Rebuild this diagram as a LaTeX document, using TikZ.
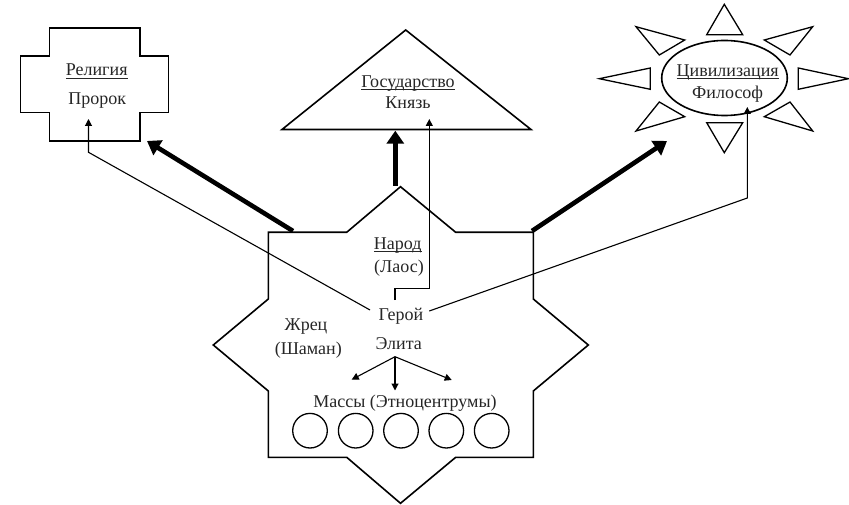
\documentclass[tikz,border=0pt]{standalone}
\usepackage{fontspec}
\setmainfont{Liberation Serif}
\usetikzlibrary{arrows.meta}
\newsavebox\ulbox
\newcommand\myul[1]{\sbox\ulbox{#1}\makebox[0pt][l]{\raisebox{-2.6pt}{\rule{\wd\ulbox}{0.9pt}}}\usebox\ulbox}
\tikzset{
  x=1pt,y=-1pt,
  outline/.style={draw=black,line width=1.6pt,line join=miter,fill=none},
  label/.style={inner sep=0pt,anchor=base,font=\fontsize{18pt}{20pt}\selectfont,text=black!85},
  thin link/.style={draw=black,line width=1.1pt},
  thin arrow/.style={thin link,-{Triangle[length=7pt,width=7pt]}},
  bold arrow/.style={draw=black,line width=4.6pt,-{Triangle[length=13pt,width=17pt]}},
  ethno/.style={circle,draw=black,line width=1.3pt,minimum size=34.6pt,inner sep=0pt},
  ray/.style={draw=black,line width=1.3pt,line join=miter},
}
\begin{document}
\begin{tikzpicture}
\useasboundingbox (0,0) rectangle (849,505);
% cross
\draw[outline] (49.5,28) -- (140,28) -- (140,56) -- (168.5,56) -- (168.5,112.5) -- (140,112.5) -- (140,141) -- (49.5,141) -- (49.5,112.5) -- (20.5,112.5) -- (20.5,56) -- (49.5,56) -- cycle;
% triangle
\draw[outline] (405.7,30) -- (531,129.5) -- (282,129.5) -- cycle;
% star
\draw[outline] (400.5,186.7) -- (455.7,232.3) -- (533.3,232.3) -- (533.3,299) -- (588.3,345) -- (533.3,391) -- (533.3,457.3) -- (455.7,457.3) -- (400.5,503.3) -- (346.7,457.3) -- (268.3,457.3) -- (268.3,391) -- (213.3,345) -- (268.3,299) -- (268.3,232.3) -- (346.7,232.3) -- cycle;
% sun
\draw[outline] (724.5,78) ellipse [x radius=62.8,y radius=37.5];
\draw[ray] (724.3,4.3) -- (742.7,34.7) -- (706.7,34.7) -- cycle;
\draw[ray] (724.3,152.7) -- (742.7,122.7) -- (706.7,122.7) -- cycle;
\draw[ray] (599.3,78.7) -- (650.3,68) -- (650.3,89.3) -- cycle;
\draw[ray] (848.4,78.7) -- (798.3,68) -- (798.3,89.3) -- cycle;
\draw[ray] (636,26.7) -- (684.7,40) -- (659.3,55) -- cycle;
\draw[ray] (812.7,26.7) -- (764.3,40) -- (790,55) -- cycle;
\draw[ray] (636,131) -- (684.7,116.7) -- (659.3,102) -- cycle;
\draw[ray] (812.7,131) -- (764.3,116.7) -- (790,102) -- cycle;
% texts
\node[label] (rel) at (96.7,76) {\myul{Религия}};
\node[label] (pro) at (97.3,104.3) {Пророк};
\node[label] (gos) at (408,87.3) {\myul{Государство}};
\node[label] (kn) at (408,109) {Князь};
\node[label] (civ) at (727.7,76.7) {\myul{Цивилизация}};
\node[label] (fil) at (727.7,98.3) {Философ};
\node[label] (nar) at (397.7,249.3) {\myul{Народ}};
\node[label] (lao) at (399,272.8) {(Лаос)};
\node[label] (ger) at (401,320.7) {Герой};
\node[label] (zh) at (306,330.7) {Жрец};
\node[label] (sh) at (308.3,354.3) {(Шаман)};
\node[label] (el) at (398.7,349.3) {Элита};
\node[label] (mas) at (405,407.3) {Массы (Этноцентрумы)};
% circles
\node[ethno] (c1) at (310,430.7) {};
\node[ethno] (c2) at (355.7,430.7) {};
\node[ethno] (c3) at (401,430.7) {};
\node[ethno] (c4) at (446.3,430.7) {};
\node[ethno] (c5) at (491.7,430.7) {};
% connector ends
\coordinate (fan) at (395,356.7);
\coordinate (fanL) at (351.7,379.6);
\coordinate (fanM) at (395,390.5);
\coordinate (fanR) at (451.7,380);
\coordinate (gerL) at (370,310);
\coordinate (gerR) at (429.3,311);
\coordinate (gerU) at (395,300);
\coordinate (kneeL) at (88.5,152.3);
\coordinate (kneeR) at (747.3,198);
\coordinate (kneeU) at (395,288.3);
\coordinate (kneeV) at (429.3,288.3);
\coordinate (tipL) at (88.5,119);
\coordinate (tipR) at (747.3,107);
\coordinate (tipU) at (429.3,119);
\coordinate (sL) at (293,231);
\coordinate (hL) at (147,141);
\coordinate (sU) at (395.3,186);
\coordinate (hU) at (395.3,130.7);
\coordinate (sR) at (532,231);
\coordinate (hR) at (667,141);
% connectors
\draw[thin arrow] (fan) -- (fanL);
\draw[thin arrow] (fan) -- (fanM);
\draw[thin arrow] (fan) -- (fanR);
\draw[thin arrow] (gerL) -- (kneeL) -- (tipL);
\draw[thin arrow] (gerR) -- (kneeR) -- (tipR);
\draw[thin arrow] (gerU) -- (kneeU) -- (kneeV) -- (tipU);
\draw[bold arrow] (sL) -- (hL);
\draw[bold arrow] (sU) -- (hU);
\draw[bold arrow] (sR) -- (hR);
\end{tikzpicture}
\end{document}
